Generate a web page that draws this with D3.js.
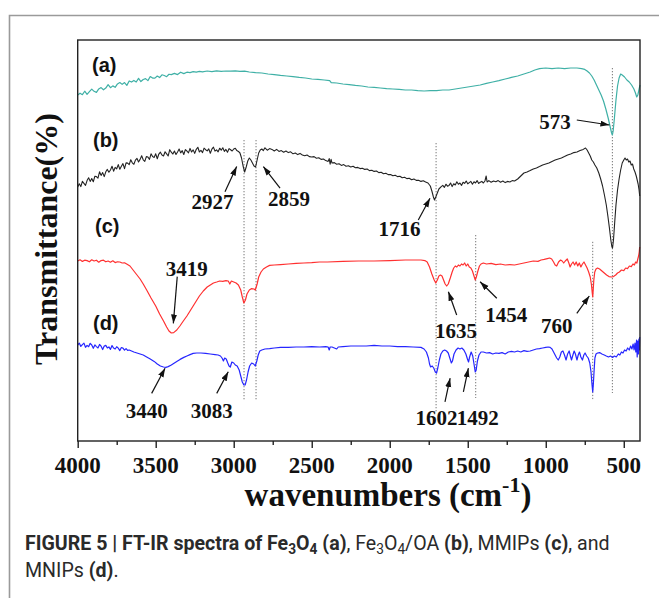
<!DOCTYPE html>
<html><head><meta charset="utf-8">
<script src="https://cdn.jsdelivr.net/npm/d3@7"></script>
<style>body{margin:0;background:#fff;} svg{display:block;}</style>
</head><body>
<svg id="chart" width="659" height="598"></svg>
<script>
// ---------- DATA ----------
const xTicks = [4000,3500,3000,2500,2000,1500,1000,500];
const xMinorTicks = [3750,3250,2750,2250,1750,1250,750];

// (a) Fe3O4  [wavenumber, transmittance]
const seriesA = [[4000,86.5],[3985,86.95],[3970,86.59],[3955,87.44],[3940,86.68],[3925,87.33],[3910,87.97],[3895,87.42],[3880,87.16],[3865,88.01],[3850,88.35],[3835,87.8],[3820,88.24],[3805,89.09],[3790,88.33],[3775,88.78],[3760,88.42],[3745,89.27],[3730,89.61],[3715,89.16],[3700,89.6],[3685,88.91],[3670,90.02],[3655,89.73],[3640,90.14],[3625,89.75],[3610,90.66],[3595,89.87],[3580,90.38],[3565,90.59],[3550,90.1],[3535,91.11],[3520,90.72],[3505,90.73],[3490,91.24],[3475,90.85],[3460,91.56],[3445,91.37],[3430,91.08],[3415,91.69],[3400,91.6],[3380,91.9],[3360,91.6],[3340,92.2],[3320,91.85],[3300,92.2],[3280,92.1],[3260,92.35],[3240,92.2],[3220,92.4],[3200,92.3],[3170,92.5],[3140,92.35],[3110,92.55],[3080,92.4],[3050,92.5],[3020,92.45],[2990,92.55],[2960,92.4],[2930,92.45],[2900,92.25],[2860,92.1],[2820,92],[2780,91.75],[2740,91.6],[2700,91.4],[2660,91.25],[2620,91.1],[2580,90.9],[2540,90.75],[2500,90.5],[2460,90.4],[2420,90.25],[2385,90.1],[2375,89.6],[2340,89.5],[2300,89.25],[2260,89.1],[2220,88.9],[2180,88.75],[2140,88.5],[2100,88.4],[2060,88.25],[2020,88.1],[1980,88],[1940,87.9],[1900,87.75],[1860,87.75],[1820,87.6],[1780,87.5],[1740,87.6],[1700,87.6],[1660,87.75],[1620,87.75],[1580,88],[1540,88.25],[1500,88.5],[1460,88.75],[1420,89],[1380,89.4],[1340,89.75],[1300,90.1],[1260,90.5],[1220,90.9],[1180,91.25],[1140,91.75],[1100,92.25],[1070,92.75],[1040,93.1],[1000,93.25],[960,93.1],[920,93.25],[880,93.1],[840,93.25],[800,93.25],[770,93.1],[750,92.9],[735,92.5],[720,92],[705,91.25],[690,90.25],[675,89],[660,87.75],[645,86.5],[630,85],[615,83],[600,80.75],[587,78.5],[578,77],[573,76.5],[568,77.5],[560,80.75],[550,85.25],[540,88.75],[530,90.75],[520,91.75],[510,91.5],[495,91],[480,90.25],[465,89.75],[450,89],[435,88],[425,87],[417,86],[410,86.5],[403,87.75],[396,89]];

// (b) Fe3O4/OA
const seriesB = [[4000,63.5],[3990,64.3],[3980,63.6],[3970,64.9],[3960,64.4],[3950,63.9],[3940,65.1],[3930,65.8],[3920,64.9],[3910,65.6],[3900,64.8],[3890,66.2],[3880,66.1],[3870,65.7],[3860,67.3],[3850,66.4],[3840,67.1],[3830,66.1],[3820,67.3],[3810,67.9],[3800,67.2],[3790,67.75],[3780,68.7],[3770,67.45],[3760,68.4],[3750,68.05],[3740,69.1],[3730,67.95],[3720,68.7],[3710,69.35],[3700,68.1],[3690,69.53],[3680,69.46],[3670,69.09],[3660,70.32],[3650,69.55],[3640,69.18],[3630,70.21],[3620,70.64],[3610,69.77],[3600,70.4],[3590,71.3],[3580,70.3],[3570,69.9],[3560,71.1],[3550,71],[3540,70.4],[3530,71.8],[3520,71.1],[3510,70.9],[3500,71.8],[3490,70.57],[3480,71.74],[3470,72.21],[3460,71.48],[3450,71.25],[3440,72.32],[3430,71.79],[3420,71.26],[3410,72.83],[3400,72.2],[3390,71.74],[3380,72.48],[3370,71.62],[3360,72.26],[3350,73],[3340,72.04],[3330,72.58],[3320,71.62],[3310,72.86],[3300,72.5],[3290,72.02],[3280,73.14],[3270,72.26],[3260,72.78],[3250,71.9],[3240,72.92],[3230,73.44],[3220,72.26],[3210,72.68],[3200,72.1],[3190,73.21],[3180,72.82],[3170,72.53],[3160,73.04],[3150,71.95],[3140,72.96],[3130,73.47],[3120,72.48],[3110,72.79],[3100,72.3],[3090,73.2],[3080,72.7],[3070,73.3],[3060,72.4],[3050,72.9],[3040,72.2],[3030,73.1],[3020,72.8],[3010,72.5],[3000,73],[2990,73.2],[2980,72.6],[2970,72.4],[2960,72],[2950,70.75],[2940,68.75],[2930,67.25],[2920,68.5],[2910,70],[2900,70.75],[2890,70.25],[2880,69.5],[2870,68.75],[2860,68.5],[2850,70.25],[2840,72],[2830,72.75],[2820,73],[2810,72.6],[2800,73.3],[2785,72.7],[2770,73.1],[2755,72.9],[2740,72.5],[2725,72.9],[2710,72.4],[2695,72.6],[2680,72.2],[2665,72.5],[2650,72.1],[2635,72.3],[2620,71.8],[2605,72.0],[2590,71.6],[2575,71.9],[2560,71.5],[2545,71.3],[2530,71.5],[2515,71.1],[2500,71],[2485,71.1],[2470,70.7],[2455,70.8],[2440,70.4],[2425,70.5],[2410,70.1],[2395,69.9],[2388,70.6],[2382,69.2],[2376,70.4],[2370,69.5],[2355,69.6],[2340,69.2],[2325,69.3],[2310,68.9],[2295,69.1],[2280,68.7],[2265,68.8],[2250,68.5],[2235,68.7],[2220,68.3],[2205,68.4],[2190,68.1],[2175,68.2],[2160,67.9],[2145,68],[2130,67.6],[2115,67.7],[2100,67.4],[2085,67.5],[2070,67.1],[2055,67.2],[2040,66.8],[2025,66.95],[2010,66.6],[1995,66.6],[1980,66.3],[1965,66.45],[1950,66.1],[1935,66.2],[1920,65.8],[1905,65.95],[1890,65.6],[1875,65.7],[1860,65.3],[1845,65.5],[1830,65.15],[1815,65.2],[1800,64.9],[1785,65.05],[1770,64.75],[1755,64.5],[1740,63.75],[1730,62.5],[1720,61],[1713,60.25],[1705,61],[1695,62],[1685,63],[1670,63.6],[1660,63.9],[1650,63.4],[1640,64.2],[1630,63.7],[1620,63.9],[1610,64.5],[1600,63.6],[1590,64.3],[1580,64.0],[1570,64.8],[1560,64.2],[1550,64.5],[1540,63.9],[1530,64.7],[1520,64.4],[1510,65],[1500,64.3],[1490,64.6],[1480,64.9],[1470,64.2],[1460,64.8],[1450,64.5],[1440,65.1],[1430,64.4],[1420,64.7],[1410,64.9],[1400,64.5],[1390,65],[1382,66.25],[1376,64.75],[1365,65.1],[1350,64.7],[1335,65],[1320,64.8],[1305,65.1],[1290,64.7],[1275,65],[1260,64.6],[1245,64.9],[1230,64.75],[1215,65.1],[1200,65],[1180,65.5],[1160,66.25],[1140,67],[1120,67.25],[1100,67.6],[1080,68],[1060,68.25],[1040,68.6],[1020,69],[1000,69.25],[980,69.5],[960,69.9],[940,70.25],[920,70.5],[900,70.75],[880,71.1],[860,71.5],[840,71.75],[820,72.1],[800,72.25],[780,72.6],[760,72.9],[745,73.25],[735,72.75],[725,72],[715,71.25],[705,70.25],[695,69.75],[685,69],[673,68.25],[660,67],[648,65.5],[636,63.75],[624,61.5],[612,59],[602,56.25],[592,53.25],[583,50.25],[576,48.5],[572,48.25],[566,50.25],[558,54.75],[550,59],[540,62.75],[530,65.5],[520,67.75],[510,69.5],[500,70.25],[492,70.75],[484,70.25],[476,70.5],[468,69.75],[460,70],[452,69],[444,69.25],[436,68],[428,67.25],[420,66.25],[414,65.25],[408,64.25],[402,62.75],[398,61.25]];

// (c) MMIPs
const seriesC = [[4000,45],[3985,45.3],[3970,44.9],[3955,45.2],[3940,45.1],[3925,44.8],[3910,45.3],[3895,45],[3880,45.2],[3865,44.7],[3850,45.1],[3835,45.2],[3820,44.8],[3805,45],[3790,44.7],[3775,45.05],[3760,44.6],[3745,44.8],[3730,44.75],[3715,44.5],[3700,44.55],[3686,44.25],[3665,43.75],[3645,42.75],[3625,41.75],[3600,40.5],[3580,39.25],[3558,37.75],[3530,35.75],[3500,33.75],[3475,31.75],[3450,30],[3430,28.5],[3415,27.5],[3400,27],[3385,27.1],[3365,27.75],[3345,28.75],[3323,30],[3300,31.25],[3280,32.5],[3260,33.75],[3240,35],[3220,36.25],[3195,37.5],[3170,38.5],[3150,39],[3130,39.5],[3109,39.75],[3090,40],[3070,39.9],[3050,40.1],[3035,40],[3025,39.25],[3015,40],[3000,39.75],[2985,39.5],[2970,39],[2955,37.75],[2945,36],[2935,34.5],[2925,35.25],[2915,36.75],[2900,37.75],[2885,38.1],[2870,38],[2862,37.75],[2850,39.25],[2840,41],[2825,42.25],[2810,43],[2790,43.5],[2770,43.9],[2740,44],[2700,44.1],[2650,44.25],[2600,44.4],[2550,44.5],[2500,44.6],[2450,44.75],[2400,44.75],[2300,44.9],[2200,45],[2100,45],[2000,45.1],[1900,45.25],[1800,45.25],[1775,45.1],[1760,44.75],[1745,43.5],[1730,41.75],[1715,40.25],[1705,39.5],[1695,40.25],[1685,41.25],[1675,41.5],[1665,41.25],[1655,40.25],[1645,39.25],[1635,38.75],[1625,39.25],[1612,40.75],[1600,42.25],[1590,43.25],[1580,43.75],[1570,43.5],[1560,44],[1550,43.75],[1540,44.25],[1530,44],[1520,44.5],[1510,43.75],[1500,44.25],[1490,43.5],[1480,43.25],[1470,42.5],[1460,41.25],[1452,40.25],[1445,41],[1435,42.5],[1425,43.75],[1415,44.25],[1400,44.5],[1380,44.25],[1350,44.4],[1320,44.1],[1290,44.25],[1260,44],[1230,44.1],[1200,44],[1170,44.25],[1140,44.5],[1110,44.75],[1080,45],[1050,44.9],[1030,45.25],[1010,45.4],[990,45.6],[975,45.75],[962,45.5],[950,44.75],[940,44],[930,43.75],[918,44.75],[905,45.25],[895,45],[885,44.5],[875,45],[862,45.5],[852,44.5],[844,43.5],[835,44.25],[825,44.75],[815,44],[805,44.75],[795,43.75],[785,44.5],[775,43.5],[765,44.25],[755,44.75],[745,44],[735,43.25],[725,42.25],[715,41],[707,39],[702,37],[699,36],[696,37.75],[692,40.25],[686,42.25],[678,43],[668,43.25],[655,43],[640,42.5],[625,42],[610,41.5],[595,41.1],[580,41],[566,41.1],[552,41.5],[540,42],[528,42.25],[515,42.75],[500,42.6],[488,43.25],[476,43.1],[464,43.75],[452,43.6],[441,44.25],[432,44],[424,44.75],[416,44.5],[410,45.5],[405,46.25],[401,47.25],[398,48.5]];

// (d) MNIPs
const seriesD = [[4000,24],[3990,24.47],[3980,23.63],[3970,24.1],[3960,24.47],[3950,23.43],[3940,23.9],[3930,23.57],[3920,24.43],[3910,24],[3900,23.17],[3890,24.03],[3880,23.6],[3870,23.27],[3860,24.13],[3850,23.7],[3840,22.87],[3830,23.73],[3820,23.9],[3810,23.27],[3800,23.53],[3790,22.9],[3780,23.87],[3770,23.23],[3760,23],[3750,23.57],[3740,23.23],[3730,22.6],[3720,23.37],[3710,23.23],[3700,22.7],[3690,23.1],[3680,22.65],[3670,22.75],[3655,22.5],[3640,22.25],[3620,22],[3600,21.75],[3580,21.5],[3558,21],[3535,20.5],[3510,19.9],[3490,19.25],[3470,18.75],[3450,18.5],[3435,18.4],[3420,18.6],[3400,19],[3380,19.5],[3360,20],[3344,20.4],[3320,20.9],[3300,21.25],[3280,21.6],[3260,21.9],[3237,22],[3210,22],[3180,21.9],[3150,21.75],[3120,21.6],[3100,21.5],[3085,21.25],[3075,20.75],[3066,20],[3058,20.75],[3048,20.5],[3038,19.5],[3030,18.75],[3022,18.5],[3012,19.75],[3000,19.5],[2990,19],[2978,18.75],[2965,17.75],[2955,16.25],[2945,14.75],[2935,14],[2927,14],[2918,15.25],[2908,17.25],[2898,18.75],[2885,19.5],[2872,19.25],[2862,18.75],[2852,20],[2843,21.5],[2833,22.5],[2820,22.75],[2800,23],[2770,23.1],[2740,23.25],[2700,23.4],[2650,23.4],[2600,23.5],[2550,23.5],[2500,23.6],[2450,23.5],[2410,23.6],[2395,23.5],[2388,22.75],[2382,23.5],[2370,23.5],[2340,23],[2330,23.5],[2300,23.6],[2250,23.75],[2200,23.75],[2150,23.75],[2100,23.9],[2050,23.75],[2000,23.75],[1950,23.6],[1900,23.6],[1850,23.5],[1800,23.4],[1780,23],[1765,22.25],[1752,20.75],[1745,19.25],[1738,18.5],[1728,18.75],[1718,18.25],[1708,17.25],[1700,17],[1692,18.25],[1682,20.25],[1672,21.75],[1660,22.5],[1648,22.75],[1636,22.5],[1625,22],[1615,20.75],[1605,19.5],[1598,20],[1588,21.75],[1575,22.75],[1562,23.25],[1550,23],[1538,23.25],[1525,22.75],[1512,21.75],[1502,20.5],[1495,19.75],[1488,21],[1478,22.25],[1468,21.25],[1460,19.25],[1452,17.25],[1446,17.75],[1438,20],[1428,21.5],[1415,22.25],[1400,22.25],[1380,22],[1360,22.1],[1340,21.75],[1320,22],[1300,21.9],[1280,22.1],[1260,21.75],[1240,22.25],[1220,22.4],[1200,22.25],[1180,22.5],[1160,22.25],[1140,22.6],[1120,22.4],[1100,22.5],[1080,22.75],[1060,23],[1040,23.1],[1020,23.25],[1000,23.4],[985,23.5],[972,23.4],[960,23],[950,22.25],[940,21.5],[930,20.75],[920,20.25],[910,21],[900,22.25],[890,22.5],[880,21.5],[870,20.25],[860,21.75],[850,22.5],[842,21.25],[835,20.25],[826,21.5],[818,22.5],[810,21.75],[800,20.25],[792,21.5],[784,22.25],[775,21],[765,20.25],[756,21.5],[748,22],[738,21.25],[728,20.75],[718,19.5],[710,17.25],[704,14.25],[699,12.25],[695,14.25],[690,17.75],[685,20.75],[678,21.75],[668,22],[655,22.1],[640,21.75],[625,21.5],[612,21.25],[598,21],[585,21.25],[572,20.9],[560,21.25],[548,21],[535,21.75],[525,21.5],[515,22.25],[505,22],[495,22.75],[485,22.5],[475,23.25],[465,22.75],[456,23.75],[448,23],[440,24.25],[434,22.75],[428,24.5],[423,22.25],[418,25.25],[414,21],[410,25],[406,21.75],[403,25.5],[400,22.75],[398,26]];

const seriesNames = ["(a)","(b)","(c)","(d)"];
const panelLabelPos = [[3908,92.25],[3902,73.6],[3889,52.1],[3902,27.75]];

const peakTexts = ["2927","2859","1716","573","3419","3440","3083","1635","1454","760","1602","1492"];
const peakLabelPos = [[3136,58],[2645,58.75],[1937,51.25],[940,78.1],[3301,41.3],[3558,5.7],[3141,5.75],[1575,25.7],[1254,29.8],[929,26.9],[1700,4],[1436,4]];
const arrowFrom = [[3056,62.3],[2703,63.2],[1817,55.25],[801,80.25],[3362,41.1],[3526,11.9],[3109,11.9],[1571,31.5],[1314,35.7],[801,31.9],[1646,9.8],[1528,12.3]];
const arrowTo = [[2981,68.6],[2810,68.6],[1742,60.7],[592,79],[3387,29.4],[3440,18.2],[3035,17.3],[1624,37.3],[1421,39.8],[721,36.25],[1613,15.7],[1496,18.2]];

const guideW = [2934,2857,1703,573,1449,699];
const guideTop = [75.25,75.25,74.5,93.25,51.5,49.8];
const guideBottom = [10.25,10.25,7.25,12,10.75,10.25];

// ---------- DRAW ----------
const svg = d3.select("#chart");
const M = {left:77.7, right:640, top:40, bottom:441};
const x = d3.scaleLinear().domain([4000,396]).range([M.left, M.right]);
const y = d3.scaleLinear().domain([0,100.25]).range([M.bottom, M.top]);
const SERIF = "Liberation Serif";

// outer page frame
svg.append("path").attr("d","M9.5,598 L9.5,15.5 L659,15.5")
  .attr("fill","none").attr("stroke","#9a9a9a").attr("stroke-width",1.6);

const defs = svg.append("defs");
defs.append("marker").attr("id","ah").attr("markerUnits","userSpaceOnUse")
  .attr("markerWidth",10).attr("markerHeight",8).attr("refX",9).attr("refY",3)
  .attr("orient","auto")
  .append("path").attr("d","M0,0 L9,3 L0,6 Z").attr("fill","#111");

// guides
svg.append("g").selectAll("line").data(guideW).join("line")
  .attr("x1",d=>x(d)).attr("x2",d=>x(d))
  .attr("y1",(d,i)=>y(guideTop[i])).attr("y2",(d,i)=>y(guideBottom[i]))
  .attr("stroke","#777").attr("stroke-width",1).attr("stroke-dasharray","1.3,1.7");

const line = d3.line().x(d=>x(d[0])).y(d=>y(d[1]));
const series = [seriesA, seriesB, seriesC, seriesD];
const colors = ["#3fb0a6","#222222","#ff3030","#2626ff"];
svg.append("g").selectAll("path").data(series).join("path")
  .attr("d", line).attr("fill","none")
  .attr("stroke",(d,i)=>colors[i]).attr("stroke-width",(d,i)=> i===1?1.1:1.2)
  .attr("stroke-linejoin","round");

// frame
svg.append("rect").attr("x",M.left).attr("y",M.top)
  .attr("width",M.right-M.left).attr("height",M.bottom-M.top)
  .attr("fill","none").attr("stroke","#222").attr("stroke-width",1.4);

// x axis (tick marks from d3 axis, labels as own text)
const ax = svg.append("g").attr("transform",`translate(0,${M.bottom})`)
  .call(d3.axisBottom(x).tickValues(xTicks).tickSize(7).tickFormat(""));
ax.select(".domain").remove();
ax.selectAll(".tick line").attr("stroke","#222").attr("stroke-width",1.4);
const axm = svg.append("g").attr("transform",`translate(0,${M.bottom})`)
  .call(d3.axisBottom(x).tickValues(xMinorTicks).tickSize(4).tickFormat(""));
axm.select(".domain").remove();
axm.selectAll(".tick line").attr("stroke","#222").attr("stroke-width",1.4);
svg.append("g").selectAll("text").data(xTicks).join("text")
  .attr("x",d=>x(d)).attr("y",M.bottom+32).attr("text-anchor","middle")
  .attr("font-family",SERIF).attr("font-weight","bold").attr("font-size",23)
  .attr("fill","#111").text(d=>String(d));

// axis titles
const xt = svg.append("text").attr("x",388).attr("y",506).attr("text-anchor","middle")
  .attr("font-family",SERIF).attr("font-weight","bold")
  .attr("font-size",33).attr("fill","#111");
xt.append("tspan").text("wavenumbers (cm");
xt.append("tspan").attr("dy",-14).attr("font-size",22).text("-1");
xt.append("tspan").attr("dy",14).text(")");

svg.append("text").attr("transform","translate(57,239) rotate(-90)").attr("text-anchor","middle")
  .attr("font-family",SERIF).attr("font-weight","bold")
  .attr("font-size",32).attr("fill","#111").text("Transmittance(%)");

// panel labels
svg.append("g").selectAll("text").data(seriesNames).join("text")
  .attr("x",(d,i)=>x(panelLabelPos[i][0])).attr("y",(d,i)=>y(panelLabelPos[i][1]))
  .attr("font-family","Liberation Sans").attr("font-weight","bold")
  .attr("font-size",20).attr("fill","#111").text(d=>d);

// arrows
svg.append("g").selectAll("line").data(arrowFrom).join("line")
  .attr("x1",d=>x(d[0])).attr("y1",d=>y(d[1]))
  .attr("x2",(d,i)=>x(arrowTo[i][0])).attr("y2",(d,i)=>y(arrowTo[i][1]))
  .attr("stroke","#111").attr("stroke-width",1.2).attr("marker-end","url(#ah)");

// peak labels
svg.append("g").selectAll("text").data(peakTexts).join("text")
  .attr("x",(d,i)=>x(peakLabelPos[i][0])).attr("y",(d,i)=>y(peakLabelPos[i][1]))
  .attr("text-anchor","middle")
  .attr("font-family",SERIF).attr("font-weight","bold")
  .attr("font-size",21).attr("fill","#111").text(d=>d);

// caption
const capFont = "Roboto";
const cap1 = [["FIGURE 5 | FT-IR spectra of Fe",1,0],["3",1,1],["O",1,0],["4",1,1],[" (a)",1,0],[", Fe",0,0],["3",0,1],["O",0,0],["4",0,1],["/OA ",0,0],["(b)",1,0],[", MMIPs ",0,0],["(c)",1,0],[", and",0,0]];
const cap2 = [["MNIPs ",0,0],["(d)",1,0],[".",0,0]];
function caption(parts, yy, fs){
  const t = svg.append("text").attr("x",25).attr("y",yy).attr("font-family",capFont)
    .attr("font-size",fs).attr("fill","#2a2a2a");
  let sub=false;
  parts.forEach(p=>{
    const s = t.append("tspan").text(p[0]).attr("font-weight",p[1]?"bold":"normal");
    if(p[2]){ s.attr("font-size",fs*0.7); if(!sub){s.attr("dy",4); sub=true;} }
    else if(sub){ s.attr("dy",-4); sub=false; }
  });
  return t;
}
const probe = caption(cap1,550,18);
const natural = probe.node().getComputedTextLength();
const fsFit = 18*585/natural;
probe.remove();
caption(cap1,550,fsFit);
caption(cap2,577,fsFit);
</script>
</body></html>
